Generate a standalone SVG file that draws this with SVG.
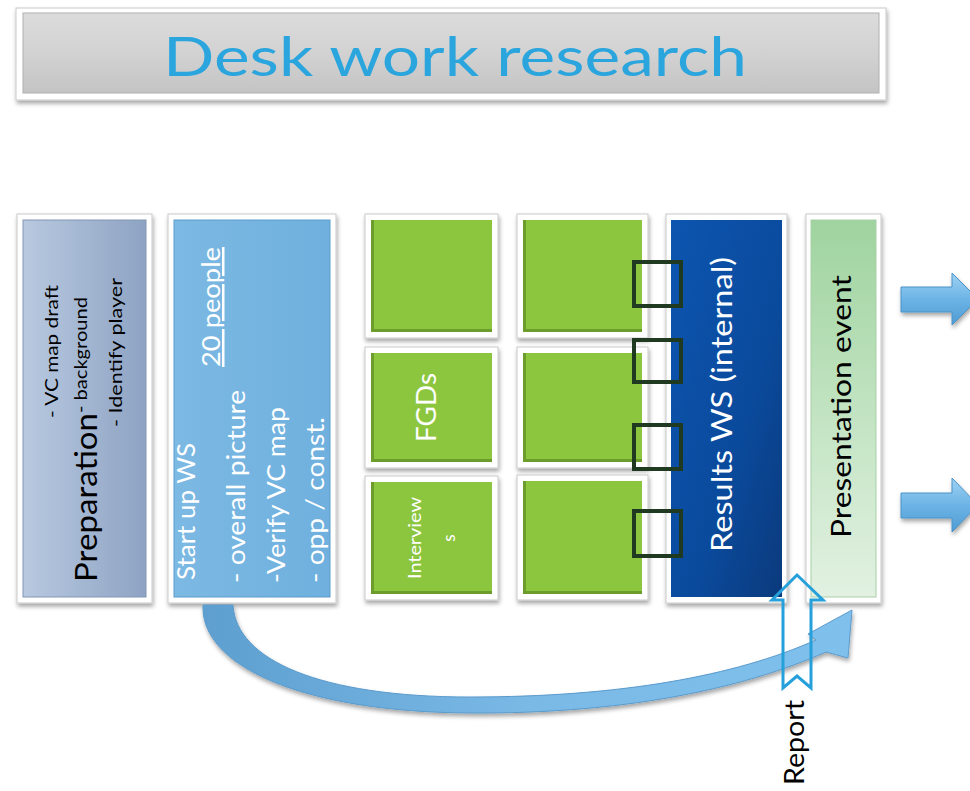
<svg xmlns="http://www.w3.org/2000/svg" width="970" height="791" viewBox="0 0 970 791">
<defs>
<filter id="sh" x="-10%" y="-10%" width="130%" height="130%"><feDropShadow dx="1" dy="3" stdDeviation="2" flood-color="#000" flood-opacity="0.35"/></filter>
<linearGradient id="gTitle" x1="0" y1="0" x2="0" y2="1"><stop offset="0" stop-color="#dcdcdc"/><stop offset="0.5" stop-color="#d2d2d2"/><stop offset="1" stop-color="#c4c4c4"/></linearGradient>
<linearGradient id="gPrep" x1="0" y1="0" x2="1" y2="0"><stop offset="0" stop-color="#b8c9e0"/><stop offset="1" stop-color="#8ea3c3"/></linearGradient>
<linearGradient id="gStart" x1="0" y1="0" x2="1" y2="0"><stop offset="0" stop-color="#7cb9e3"/><stop offset="1" stop-color="#6fb0de"/></linearGradient>
<linearGradient id="gRes" x1="0" y1="0" x2="1" y2="1"><stop offset="0" stop-color="#0d55b0"/><stop offset="0.6" stop-color="#0a4a9c"/><stop offset="1" stop-color="#0b3a7c"/></linearGradient>
<linearGradient id="gPres" x1="0" y1="0" x2="0" y2="1"><stop offset="0" stop-color="#9fd39f"/><stop offset="0.6" stop-color="#c8e6c8"/><stop offset="1" stop-color="#e2f1e2"/></linearGradient>
<linearGradient id="gArr" x1="0" y1="0" x2="0" y2="1"><stop offset="0" stop-color="#9fd2f2"/><stop offset="0.5" stop-color="#6cb4e6"/><stop offset="1" stop-color="#4f9bd3"/></linearGradient>
<linearGradient id="gCurve" x1="0" y1="0" x2="1" y2="0"><stop offset="0" stop-color="#5d9fd0"/><stop offset="0.5" stop-color="#7ab9e6"/><stop offset="1" stop-color="#7fc0ec"/></linearGradient>
</defs>
<style>
.frame{fill:#ffffff;stroke:#c9c9c9;stroke-width:1;filter:url(#sh)}
.green{fill:#8cc63f}
.gedge{fill:none;stroke:#6c9c2c;stroke-width:3}
.brk{fill:none;stroke:#1f3a20;stroke-width:4}
.t{font-family:Lato,"Liberation Sans",sans-serif}
.w{fill:#ffffff}
.k{fill:#000000}
.rarr{fill:url(#gArr);stroke:#4a93c9;stroke-width:1;filter:url(#sh)}
</style>
<rect width="970" height="791" fill="#ffffff"/>

<g id="title">
<rect class="frame" x="16" y="8" width="870" height="92"/>
<rect x="23" y="13" width="856" height="80" fill="url(#gTitle)" stroke="#b0b0b0" stroke-width="1"/>
<text class="t" x="163" y="76" font-size="54" fill="#2aa5dd" textLength="584" lengthAdjust="spacingAndGlyphs">Desk work research</text>
</g>

<g id="preparation">
<rect class="frame" x="17" y="214" width="135" height="389"/>
<rect x="23" y="220" width="123" height="377" fill="url(#gPrep)" stroke="#8296b4" stroke-width="1"/>
<text class="t k" transform="translate(97,582) rotate(-90)" font-size="30" textLength="169" lengthAdjust="spacingAndGlyphs">Preparation</text>
<text class="t k" transform="translate(58,418) rotate(-90)" font-size="18" textLength="133" lengthAdjust="spacingAndGlyphs">- VC map draft</text>
<text class="t k" transform="translate(87,413) rotate(-90)" font-size="18" textLength="116" lengthAdjust="spacingAndGlyphs">- background</text>
<text class="t k" transform="translate(122,427) rotate(-90)" font-size="18" textLength="149" lengthAdjust="spacingAndGlyphs">- Identify player</text>
</g>

<g id="startup">
<rect class="frame" x="168" y="214" width="168" height="389"/>
<rect x="174" y="220" width="156" height="377" fill="url(#gStart)" stroke="#5c9ccc" stroke-width="1"/>
<text class="t w" transform="translate(195,580) rotate(-90)" font-size="25" textLength="137" lengthAdjust="spacingAndGlyphs">Start up WS</text>
<text class="t w" transform="translate(220,367) rotate(-90)" font-size="25" textLength="120" lengthAdjust="spacingAndGlyphs" text-decoration="underline">20 people</text>
<text class="t w" transform="translate(245,583) rotate(-90)" font-size="25" textLength="193" lengthAdjust="spacingAndGlyphs">- overall picture</text>
<text class="t w" transform="translate(285,583) rotate(-90)" font-size="25" textLength="176" lengthAdjust="spacingAndGlyphs">-Verify VC map</text>
<text class="t w" transform="translate(324,583) rotate(-90)" font-size="25" textLength="166" lengthAdjust="spacingAndGlyphs">- opp / const.</text>
</g>

<g id="g11">
<rect class="frame" x="365" y="214" width="133" height="124"/>
<rect class="green" x="371" y="220" width="121" height="112"/>
<path class="gedge" d="M372.5 220 V330.5 H492"/>
</g>
<g id="fgds">
<rect class="frame" x="365" y="347" width="133" height="121"/>
<rect class="green" x="371" y="353" width="121" height="109"/>
<path class="gedge" d="M372.5 353 V460.5 H492"/>
<text class="t w" transform="translate(436,442) rotate(-90)" font-size="27" textLength="69" lengthAdjust="spacingAndGlyphs">FGDs</text>
</g>
<g id="interviews">
<rect class="frame" x="365" y="476" width="133" height="124"/>
<rect class="green" x="371" y="482" width="121" height="112"/>
<path class="gedge" d="M372.5 482 V592.5 H492"/>
<text class="t w" text-anchor="middle" transform="translate(421,538) rotate(-90)" font-size="17" textLength="82" lengthAdjust="spacingAndGlyphs">Interview</text>
<text class="t w" text-anchor="middle" transform="translate(455,538) rotate(-90)" font-size="17">s</text>
</g>
<g id="g21">
<rect class="frame" x="517" y="214" width="131" height="124"/>
<rect class="green" x="523" y="220" width="119" height="112"/>
<path class="gedge" d="M524.5 220 V330.5 H642"/>
</g>
<g id="g22">
<rect class="frame" x="517" y="347" width="131" height="121"/>
<rect class="green" x="523" y="353" width="119" height="109"/>
<path class="gedge" d="M524.5 353 V460.5 H642"/>
</g>
<g id="g23">
<rect class="frame" x="517" y="475" width="131" height="125"/>
<rect class="green" x="523" y="481" width="119" height="113"/>
<path class="gedge" d="M524.5 481 V592.5 H642"/>
</g>

<g id="results">
<rect class="frame" x="666" y="214" width="121" height="389"/>
<rect x="671" y="220" width="111" height="377" fill="url(#gRes)"/>
<text class="t w" transform="translate(732,552) rotate(-90)" font-size="28" textLength="295" lengthAdjust="spacingAndGlyphs">Results WS (internal)</text>
</g>

<g id="presentation">
<rect class="frame" x="806" y="214" width="75" height="389"/>
<rect x="811" y="220" width="65" height="377" fill="url(#gPres)" stroke="#a8cfa8" stroke-width="1"/>
<text class="t k" transform="translate(851,538) rotate(-90)" font-size="27" textLength="263" lengthAdjust="spacingAndGlyphs">Presentation event</text>
</g>

<g id="connectors">
<rect class="brk" x="634" y="262" width="47" height="44"/>
<rect class="brk" x="634" y="340" width="47" height="42"/>
<rect class="brk" x="634" y="425" width="47" height="44"/>
<rect class="brk" x="634" y="511" width="47" height="45"/>
<path d="M203 605 C200 665 300 712 470 713 C620 714 740 690 826 652 L848 658 L852 610 L808 634 L816 640 C735 676 620 697 470 697 C320 697 236 660 233 605 Z" fill="url(#gCurve)" stroke="#5b9bcc" stroke-width="1" filter="url(#sh)"/>
<path d="M783 688 V600 H772 L797 575 L823 600 H811 V688 L797 676 Z" fill="none" stroke="#25a0db" stroke-width="3"/>
<path class="rarr" d="M901 287 H952 V273 L978 299 L952 325 V312 H901 Z"/>
<path class="rarr" d="M901 493 H952 V478 L978 505 L952 532 V518 H901 Z"/>
</g>
<text class="t k" transform="translate(804,785) rotate(-90)" font-size="26" textLength="85" lengthAdjust="spacingAndGlyphs">Report</text>
</svg>
